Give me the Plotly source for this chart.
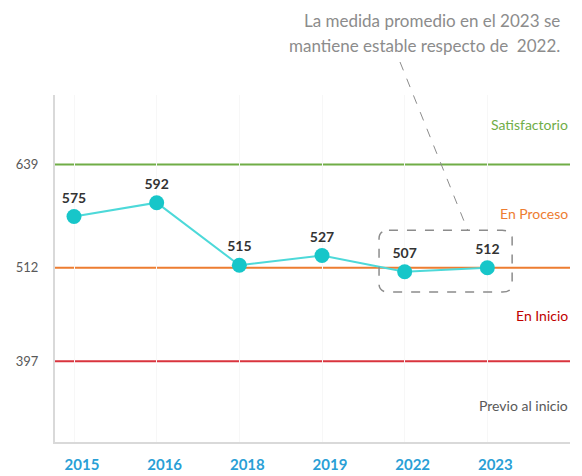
import plotly.graph_objects as go

years = ["2015", "2016", "2018", "2019", "2022", "2023"]
scores = [575, 592, 515, 527, 507, 512]
levels = [639, 512, 397]
level_colors = ["#70AD47", "#ED7D31", "#D9343E"]
band_names = ["Satisfactorio", "En Proceso", "En Inicio", "Previo al inicio"]
band_y = [688, 579, 453, 343]
band_colors = ["#70AD47", "#ED7D31", "#C00000", "#595959"]
note_lines = ["La medida promedio en el 2023 se", "mantiene estable respecto de  2022."]

FONT = "Lato"
x0, x1 = -0.23, 6.0
y0, y1 = 297.5, 724.5

# page offset: browser body margin of 8px
W, H = 574, 468
L, R, T, B = 47, 12, 87, 34
PW, PH = W - L - R, H - T - B

def px(xp):  # page x -> paper x
    return (xp - 8 - L) / PW

def py(yp):  # page y -> paper y
    return (H - B - (yp - 8)) / PH

fig = go.Figure()
fig.add_trace(go.Scatter(
    x=list(range(len(years))), y=scores, mode="lines+markers+text",
    line=dict(color="#4DD9D9", width=2),
    marker=dict(color="#17C6C9", size=15),
    text=[str(v) for v in scores], textposition="top center",
    textfont=dict(family=FONT, size=14, color="#333333", weight="bold"),
    cliponaxis=False, hoverinfo="skip"))

for lv, c in zip(levels, level_colors):
    fig.add_shape(type="line", xref="x", yref="y", x0=x0, x1=x1, y0=lv, y1=lv,
                  line=dict(color=c, width=2), layer="below")

for name, yy, c in zip(band_names, band_y, band_colors):
    fig.add_annotation(x=1, xref="paper", y=yy, yref="y", text=name, showarrow=False,
                       xanchor="right", font=dict(family=FONT, size=14, color=c))

# rounded dashed box around 2022-2023
bx0, bx1, by0, by1 = 3.69, 5.30, 482, 558
rx, ry = 0.12, 10
path = (f"M {bx0+rx} {by1} L {bx1-rx} {by1} Q {bx1} {by1} {bx1} {by1-ry} "
        f"L {bx1} {by0+ry} Q {bx1} {by0} {bx1-rx} {by0} L {bx0+rx} {by0} "
        f"Q {bx0} {by0} {bx0} {by0+ry} L {bx0} {by1-ry} Q {bx0} {by1} {bx0+rx} {by1} Z")
fig.add_shape(type="path", path=path, xref="x", yref="y",
              line=dict(color="#8C8C8C", width=1.5, dash="dash"))

for line, yc in zip(note_lines, [20, 46]):
    fig.add_annotation(x=px(562), xref="paper", y=py(yc), yref="paper", yanchor="middle",
                       text=line, showarrow=False, xanchor="right",
                       font=dict(family=FONT, size=17, color="#8C8C8C"))
fig.add_shape(type="line", xref="paper", yref="paper",
              x0=px(400), y0=py(62), x1=px(468), y1=py(231),
              line=dict(color="#8C8C8C", width=1, dash="dash"))

fig.update_layout(
    width=W, height=H, margin=dict(l=L, r=R, t=T, b=B, autoexpand=False),
    paper_bgcolor="white", plot_bgcolor="white", showlegend=False,
    xaxis=dict(range=[x0, x1], tickmode="array", tickvals=list(range(len(years))),
               ticktext=years, showgrid=True, gridcolor="#F7F7F7", automargin=False,
               showline=True, linecolor="#D9D9D9", linewidth=2, zeroline=False,
               ticklabelstandoff=8, ticklabelshift=8,
               tickfont=dict(family=FONT, size=15, color="#2A9FD6", weight="bold")),
    yaxis=dict(range=[y0, y1], tickmode="array", tickvals=levels,
               ticktext=[str(v) for v in levels], showgrid=False, automargin=False,
               showline=True, linecolor="#D9D9D9", linewidth=2, zeroline=False,
               ticks="", ticklabelstandoff=12,
               tickfont=dict(family=FONT, size=13, color="#595959")),
)
fig.write_html("out.html")
